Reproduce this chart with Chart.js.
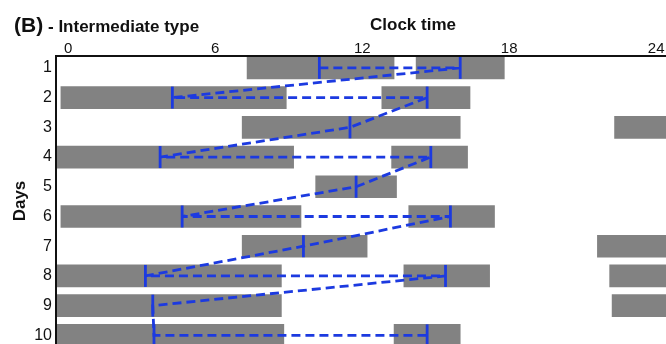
<!DOCTYPE html>
<html>
<head>
<meta charset="utf-8">
<script src="https://cdn.jsdelivr.net/npm/chart.js@4/dist/chart.umd.min.js"></script>
<style>
  html, body { margin: 0; padding: 0; background: #fff; }
  #wrap { width: 666px; height: 344px; position: relative; }
</style>
</head>
<body>
<div id="wrap"><canvas id="sleepChart" width="666" height="344"></canvas></div>
<script>
// Sleep episodes per day (clock hours), one entry per episode
const episodeDay   = [1, 1, 2, 2, 3, 3, 4, 4, 5, 6, 6, 7, 7, 8, 8, 8, 9, 9, 10, 10];
const episodeStart = [7.3, 14.2, -0.3, 12.8, 7.1, 22.3, -0.5, 13.2, 10.1, -0.3, 13.9, 7.1, 21.6, -0.5, 13.7, 22.1, -0.5, 22.2, -0.5, 13.3];
const episodeEnd   = [13.3, 17.8, 8.9, 16.4, 16.0, 25, 9.2, 16.3, 13.4, 9.5, 17.4, 12.2, 25, 8.7, 17.2, 25, 8.7, 25, 8.8, 16.0];

// Mid-sleep points, in chronological order
const midDay   = [1, 1, 2, 2, 3, 4, 4, 5, 6, 6, 7, 8, 8, 9, 10, 10];
const midClock = [10.25, 16.0, 4.25, 14.65, 11.5, 3.75, 14.8, 11.75, 4.65, 15.6, 9.6, 3.15, 15.4, 3.45, 3.5, 14.65];

const dayTicks = [1, 2, 3, 4, 5, 6, 7, 8, 9, 10];
const hourTicks = [0, 6, 12, 18, 24];

const FONT = '"Liberation Sans", Arial, Helvetica, sans-serif';
const BLUE = '#1c3ae0';
const GREY = '#828282';

const episodes = episodeDay.map((d, i) => ({ x: [episodeStart[i], episodeEnd[i]], y: d }));
const mids = midDay.map((d, i) => ({ x: midClock[i], y: d }));

// fixed axis boxes, no label padding added by the layout
function fixBox(scale, size) {
  if (scale.isHorizontal()) scale.height = size; else scale.width = size;
  scale.paddingTop = scale.paddingBottom = scale.paddingLeft = scale.paddingRight = 0;
}

// headings plus the top/left frame
const headings = {
  id: 'headings',
  afterDraw(chart) {
    const { ctx, chartArea: a } = chart;
    ctx.save();
    ctx.strokeStyle = '#111';
    ctx.lineWidth = 2;
    ctx.beginPath();
    ctx.moveTo(chart.width, a.top);
    ctx.lineTo(a.left, a.top);
    ctx.lineTo(a.left, chart.height);
    ctx.stroke();

    ctx.fillStyle = '#111';
    ctx.textBaseline = 'alphabetic';
    ctx.textAlign = 'left';
    ctx.font = 'bold 21px ' + FONT;
    ctx.fillText('(B)', 14, 32);
    ctx.font = 'bold 17px ' + FONT;
    ctx.fillText('- Intermediate type', 48, 32);
    ctx.fillText('Clock time', 370, 30);
    ctx.translate(25, 201);
    ctx.rotate(-Math.PI / 2);
    ctx.textAlign = 'center';
    ctx.fillText('Days', 0, 0);
    ctx.restore();
  }
};

new Chart(document.getElementById('sleepChart'), {
  type: 'bar',
  data: {
    datasets: [
      {
        type: 'line',
        data: mids,
        order: 0,
        borderColor: BLUE,
        borderWidth: 2.8,
        borderDash: [9, 5],
        tension: 0,
        fill: false,
        pointStyle: 'line',
        rotation: 90,
        pointRadius: 11,
        pointBorderWidth: 2.8,
        pointBorderColor: BLUE,
        pointBackgroundColor: BLUE
      },
      {
        type: 'bar',
        data: episodes,
        order: 1,
        backgroundColor: GREY,
        borderWidth: 0,
        barThickness: 22
      }
    ]
  },
  options: {
    indexAxis: 'y',
    responsive: false,
    animation: false,
    layout: { padding: 0, autoPadding: false },
    plugins: {
      legend: { display: false },
      tooltip: { enabled: false }
    },
    scales: {
      x: {
        type: 'linear',
        position: 'top',
        min: -0.5,
        max: 24.4,
        offset: false,
        beginAtZero: false,
        afterBuildTicks: (scale) => { scale.ticks = hourTicks.map(v => ({ value: v })); },
        afterFit: (scale) => fixBox(scale, 56),
        ticks: { font: { family: FONT, size: 15 }, color: '#111', padding: -2, maxRotation: 0 },
        grid: { display: false, drawTicks: false, offset: false },
        border: { display: false }
      },
      y: {
        type: 'linear',
        position: 'left',
        reverse: true,
        min: 0.6,
        max: 10.29,
        offset: false,
        beginAtZero: false,
        afterBuildTicks: (scale) => { scale.ticks = dayTicks.map(v => ({ value: v })); },
        afterFit: (scale) => fixBox(scale, 56),
        ticks: { font: { family: FONT, size: 16 }, color: '#111', padding: 4 },
        grid: { display: false, drawTicks: false, offset: false },
        border: { display: false }
      }
    }
  },
  plugins: [headings]
});
</script>
</body>
</html>
